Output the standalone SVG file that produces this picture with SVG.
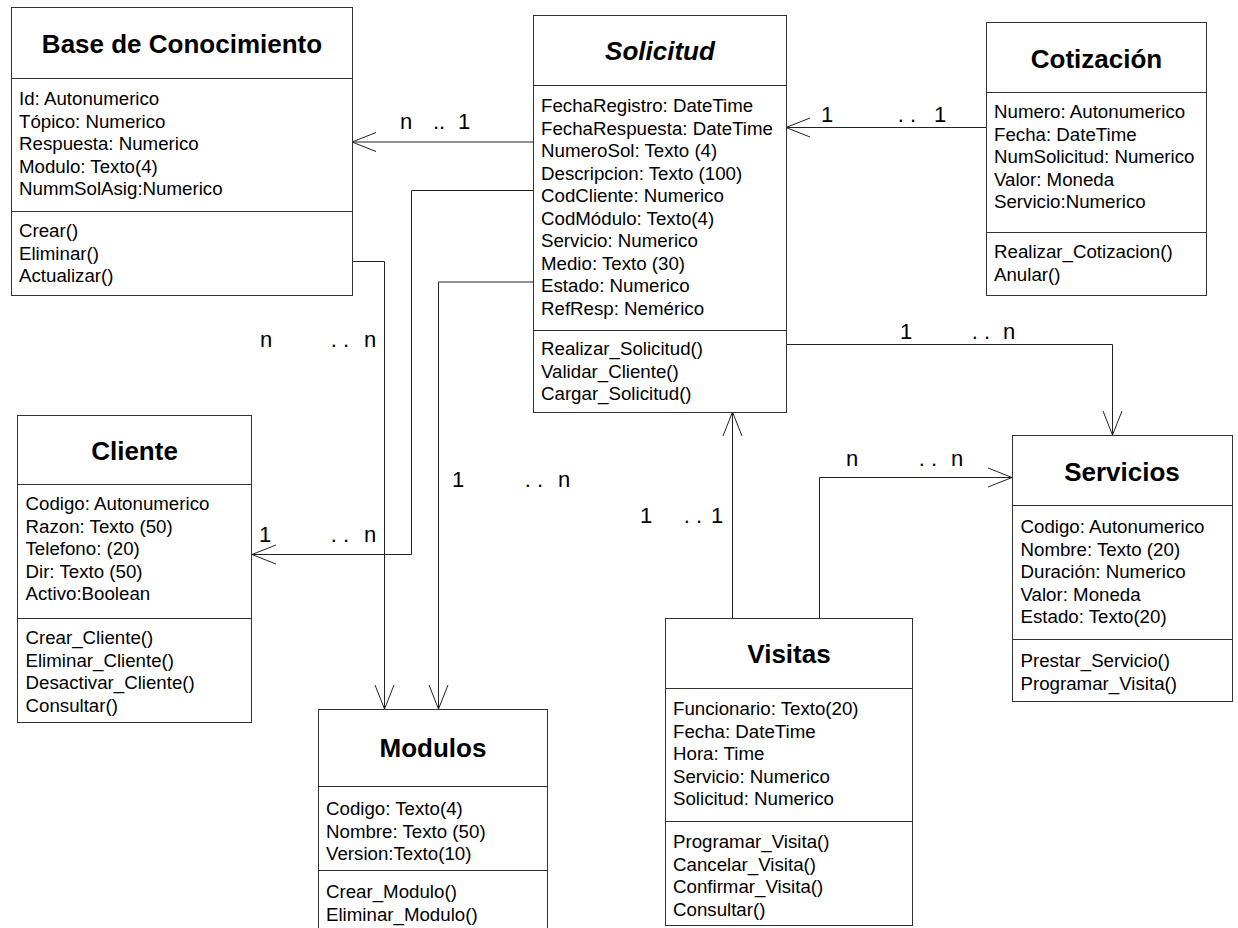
<svg xmlns="http://www.w3.org/2000/svg" width="1238" height="928" viewBox="0 0 1238 928">
<style>
  .box { fill: #ffffff; stroke: #333333; stroke-width: 1; }
  .sep { stroke: #333333; stroke-width: 1; }
  .t { font-family: "Liberation Sans", Arial, sans-serif; font-size: 18.7px; fill: #000000; }
  .title { font-family: "Liberation Sans", Arial, sans-serif; font-size: 26px; font-weight: bold; text-anchor: middle; fill: #000000; }
  .lbl { font-family: "Liberation Sans", Arial, sans-serif; font-size: 22px; text-anchor: middle; fill: #000000; }
  .conn { fill: none; stroke: #222222; stroke-width: 1; }
</style>
<defs>
  <marker id="open" markerUnits="userSpaceOnUse" markerWidth="32" markerHeight="26" viewBox="-28 -13 32 26" refX="0" refY="0" orient="auto" overflow="visible">
    <path d="M-24,-9.5 L0,0 L-24,9.5" fill="none" stroke="#222222" stroke-width="1"/>
  </marker>
</defs>
<rect width="1238" height="928" fill="#ffffff"/>

<g id="connectors">
  <path class="conn" d="M986,127.5 H786" marker-end="url(#open)"/>
  <path class="conn" d="M533,142 H352" marker-end="url(#open)"/>
  <path class="conn" d="M533,190.5 H411.5 V554.5 H252" marker-end="url(#open)"/>
  <path class="conn" d="M352,261.5 H384.5 V709" marker-end="url(#open)"/>
  <path class="conn" d="M533,282 H438.5 V709" marker-end="url(#open)"/>
  <path class="conn" d="M786,344.5 H1112.5 V435" marker-end="url(#open)"/>
  <path class="conn" d="M819.5,618 V477.5 H1012" marker-end="url(#open)"/>
  <path class="conn" d="M732.5,618 V412" marker-end="url(#open)"/>
  <g id="labels">
    <text class="lbl" x="406" y="129">n</text><text class="lbl" x="439" y="129">..</text><text class="lbl" x="464" y="129">1</text>
    <text class="lbl" x="827" y="122">1</text><text class="lbl" x="907" y="122">. .</text><text class="lbl" x="940" y="122">1</text>
    <text class="lbl" x="265" y="542">1</text><text class="lbl" x="340" y="542">. .</text><text class="lbl" x="370" y="542">n</text>
    <text class="lbl" x="266" y="347">n</text><text class="lbl" x="340" y="347">. .</text><text class="lbl" x="370" y="347">n</text>
    <text class="lbl" x="458" y="487">1</text><text class="lbl" x="534" y="487">. .</text><text class="lbl" x="564" y="487">n</text>
    <text class="lbl" x="906" y="339">1</text><text class="lbl" x="981" y="339">. .</text><text class="lbl" x="1009" y="339">n</text>
    <text class="lbl" x="852" y="466">n</text><text class="lbl" x="928" y="466">. .</text><text class="lbl" x="957" y="466">n</text>
    <text class="lbl" x="646" y="523">1</text><text class="lbl" x="693" y="523">. .</text><text class="lbl" x="717" y="523">1</text>
  </g>
</g>

<g id="base-conocimiento">
  <rect class="box" x="11.5" y="7.5" width="341" height="288"/>
  <line class="sep" x1="11.5" y1="78.5" x2="352.5" y2="78.5"/>
  <line class="sep" x1="11.5" y1="211.5" x2="352.5" y2="211.5"/>
  <text class="title" x="182" y="53">Base de Conocimiento</text>
  <text class="t" x="19" y="105">Id: Autonumerico</text>
  <text class="t" x="19" y="127.5">Tópico: Numerico</text>
  <text class="t" x="19" y="150">Respuesta: Numerico</text>
  <text class="t" x="19" y="172.5">Modulo: Texto(4)</text>
  <text class="t" x="19" y="195">NummSolAsig:Numerico</text>
  <text class="t" x="19" y="237">Crear()</text>
  <text class="t" x="19" y="259.5">Eliminar()</text>
  <text class="t" x="19" y="282">Actualizar()</text>
</g>

<g id="solicitud">
  <rect class="box" x="533.5" y="15.5" width="253" height="397"/>
  <line class="sep" x1="533.5" y1="85.5" x2="786.5" y2="85.5"/>
  <line class="sep" x1="533.5" y1="330.5" x2="786.5" y2="330.5"/>
  <text class="title" x="660" y="60" font-style="italic">Solicitud</text>
  <text class="t" x="541" y="112">FechaRegistro: DateTime</text>
  <text class="t" x="541" y="134.5">FechaRespuesta: DateTime</text>
  <text class="t" x="541" y="157">NumeroSol: Texto (4)</text>
  <text class="t" x="541" y="179.5">Descripcion: Texto (100)</text>
  <text class="t" x="541" y="202">CodCliente: Numerico</text>
  <text class="t" x="541" y="224.5">CodMódulo: Texto(4)</text>
  <text class="t" x="541" y="247">Servicio: Numerico</text>
  <text class="t" x="541" y="269.5">Medio: Texto (30)</text>
  <text class="t" x="541" y="292">Estado: Numerico</text>
  <text class="t" x="541" y="314.5">RefResp: Nemérico</text>
  <text class="t" x="541" y="355">Realizar_Solicitud()</text>
  <text class="t" x="541" y="377.5">Validar_Cliente()</text>
  <text class="t" x="541" y="400">Cargar_Solicitud()</text>
</g>

<g id="cotizacion">
  <rect class="box" x="986.5" y="22.5" width="220" height="273"/>
  <line class="sep" x1="986.5" y1="92.5" x2="1206.5" y2="92.5"/>
  <line class="sep" x1="986.5" y1="232.5" x2="1206.5" y2="232.5"/>
  <text class="title" x="1096.5" y="67.5">Cotización</text>
  <text class="t" x="994" y="118">Numero: Autonumerico</text>
  <text class="t" x="994" y="140.5">Fecha: DateTime</text>
  <text class="t" x="994" y="163">NumSolicitud: Numerico</text>
  <text class="t" x="994" y="185.5">Valor: Moneda</text>
  <text class="t" x="994" y="208">Servicio:Numerico</text>
  <text class="t" x="994" y="258">Realizar_Cotizacion()</text>
  <text class="t" x="994" y="280.5">Anular()</text>
</g>

<g id="cliente">
  <rect class="box" x="17.5" y="415.5" width="234" height="307"/>
  <line class="sep" x1="17.5" y1="484.5" x2="251.5" y2="484.5"/>
  <line class="sep" x1="17.5" y1="618.5" x2="251.5" y2="618.5"/>
  <text class="title" x="134.5" y="460">Cliente</text>
  <text class="t" x="25.5" y="510">Codigo: Autonumerico</text>
  <text class="t" x="25.5" y="532.5">Razon: Texto (50)</text>
  <text class="t" x="25.5" y="555">Telefono: (20)</text>
  <text class="t" x="25.5" y="577.5">Dir: Texto (50)</text>
  <text class="t" x="25.5" y="600">Activo:Boolean</text>
  <text class="t" x="25.5" y="644">Crear_Cliente()</text>
  <text class="t" x="25.5" y="666.5">Eliminar_Cliente()</text>
  <text class="t" x="25.5" y="689">Desactivar_Cliente()</text>
  <text class="t" x="25.5" y="711.5">Consultar()</text>
</g>

<g id="servicios">
  <rect class="box" x="1012.5" y="435.5" width="220" height="266"/>
  <line class="sep" x1="1012.5" y1="505.5" x2="1232.5" y2="505.5"/>
  <line class="sep" x1="1012.5" y1="639.5" x2="1232.5" y2="639.5"/>
  <text class="title" x="1122" y="481">Servicios</text>
  <text class="t" x="1020.5" y="533">Codigo: Autonumerico</text>
  <text class="t" x="1020.5" y="555.5">Nombre: Texto (20)</text>
  <text class="t" x="1020.5" y="578">Duración: Numerico</text>
  <text class="t" x="1020.5" y="600.5">Valor: Moneda</text>
  <text class="t" x="1020.5" y="623">Estado: Texto(20)</text>
  <text class="t" x="1020.5" y="667">Prestar_Servicio()</text>
  <text class="t" x="1020.5" y="689.5">Programar_Visita()</text>
</g>

<g id="visitas">
  <rect class="box" x="665.5" y="618.5" width="247" height="307"/>
  <line class="sep" x1="665.5" y1="688.5" x2="912.5" y2="688.5"/>
  <line class="sep" x1="665.5" y1="821.5" x2="912.5" y2="821.5"/>
  <text class="title" x="789" y="663">Visitas</text>
  <text class="t" x="673" y="715">Funcionario: Texto(20)</text>
  <text class="t" x="673" y="737.5">Fecha: DateTime</text>
  <text class="t" x="673" y="760">Hora: Time</text>
  <text class="t" x="673" y="782.5">Servicio: Numerico</text>
  <text class="t" x="673" y="805">Solicitud: Numerico</text>
  <text class="t" x="673" y="848">Programar_Visita()</text>
  <text class="t" x="673" y="870.5">Cancelar_Visita()</text>
  <text class="t" x="673" y="893">Confirmar_Visita()</text>
  <text class="t" x="673" y="915.5">Consultar()</text>
</g>

<g id="modulos">
  <rect class="box" x="318.5" y="709.5" width="229" height="240"/>
  <line class="sep" x1="318.5" y1="786.5" x2="547.5" y2="786.5"/>
  <line class="sep" x1="318.5" y1="870.5" x2="547.5" y2="870.5"/>
  <text class="title" x="433" y="757">Modulos</text>
  <text class="t" x="326" y="815">Codigo: Texto(4)</text>
  <text class="t" x="326" y="837.5">Nombre: Texto (50)</text>
  <text class="t" x="326" y="860">Version:Texto(10)</text>
  <text class="t" x="326" y="898">Crear_Modulo()</text>
  <text class="t" x="326" y="920.5">Eliminar_Modulo()</text>
</g>
</svg>
